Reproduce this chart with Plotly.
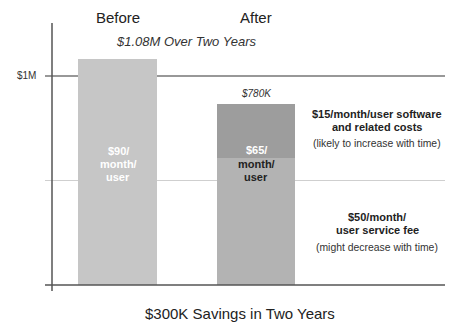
import plotly.graph_objects as go

# ---- data (in $M) ----
categories = ["Before", "After"]
before_cost = [1.08]
after_service_fee = [0.61]
after_software = [0.255]
bar_labels_total = ["$1.08M Over Two Years", "$780K"]
tick_vals = [1.0]
tick_text = ["$1M"]
grid_vals = [0.5]

W, H = 450, 322
L, R, T, B = 52, 5, 23, 37
PW, PH = W - L - R, H - T - B

FONT = "Liberation Sans, Arial, sans-serif"

def px(xp):
    return (xp - L) / PW

def py(yp):
    return (H - B - yp) / PH

fig = go.Figure()
fig.add_trace(go.Bar(x=[0], y=before_cost, width=0.57, marker=dict(color="#c6c6c6", line=dict(width=0)),
                     hoverinfo="skip", name=categories[0]))
fig.add_trace(go.Bar(x=[1], y=after_service_fee, width=0.57, marker=dict(color="#b3b3b3", line=dict(width=0)),
                     hoverinfo="skip", name="service"))
fig.add_trace(go.Bar(x=[1], y=after_software, width=0.57, marker=dict(color="#9d9d9d", line=dict(width=0)),
                     hoverinfo="skip", name="software"))

ann = []
def A(text, xp, yp, size, color="#222", bold=False, italic=False, anchor="center"):
    t = text
    if bold:
        t = "<b>" + t + "</b>"
    if italic:
        t = "<i>" + t + "</i>"
    ann.append(dict(text=t, x=px(xp), y=py(yp), xref="paper", yref="paper", showarrow=False,
                    xanchor=anchor, yanchor="middle", font=dict(family=FONT, size=size, color=color)))

A(categories[0], 118, 17, 15)
A(categories[1], 256, 17, 15)
A(bar_labels_total[0], 186, 41, 13, color="#333", italic=True)
A(bar_labels_total[1], 256, 94, 10, color="#333", italic=True)
A(tick_text[0], 38, 76, 10, color="#333", anchor="right")

A("$90/", 118, 151, 11, color="white", bold=True)
A("month/", 118, 164, 11, color="white", bold=True)
A("user", 118, 177, 11, color="white", bold=True)

A("$65/", 256, 150, 11, color="white", bold=True)
A("month/", 256, 164, 11, color="#222", bold=True)
A("user", 256, 177, 11, color="#222", bold=True)

A("$15/month/user software", 377, 114, 11, bold=True)
A("and related costs", 377, 127, 11, bold=True)
A("(likely to increase with time)", 377, 143, 10.4, color="#333")

A("$50/month/", 377, 217, 11, bold=True)
A("user service fee", 377, 230, 11, bold=True)
A("(might decrease with time)", 377, 247, 10.4, color="#333")

A("$300K Savings in Two Years", 240, 313, 15)

shapes = []
for gv in grid_vals:
    shapes.append(dict(type="line", xref="paper", yref="y", x0=px(45), x1=1, y0=gv, y1=gv,
                       line=dict(color="#cfcfcf", width=1.2), layer="below"))
for tv in tick_vals:
    shapes.append(dict(type="line", xref="paper", yref="y", x0=px(45), x1=1, y0=tv, y1=tv,
                       line=dict(color="#333", width=1.2), layer="below"))
# axes
shapes.append(dict(type="line", xref="paper", yref="paper", x0=px(45), x1=1, y0=0, y1=0,
                   line=dict(color="#555", width=1.5)))
shapes.append(dict(type="line", xref="paper", yref="paper", x0=px(52), x1=px(52), y0=py(291), y1=1,
                   line=dict(color="#555", width=1.5)))

x_span = PW / 138.5
x0 = -(117.5 - L) / 138.5
fig.update_layout(
    width=W, height=H, margin=dict(l=L, r=R, t=T, b=B),
    paper_bgcolor="white", plot_bgcolor="white",
    barmode="stack", showlegend=False,
    xaxis=dict(range=[x0, x0 + x_span], visible=False, fixedrange=True),
    yaxis=dict(range=[0, PH / 209], visible=False, fixedrange=True),
    annotations=ann, shapes=shapes,
)
fig.write_html("out.html")
